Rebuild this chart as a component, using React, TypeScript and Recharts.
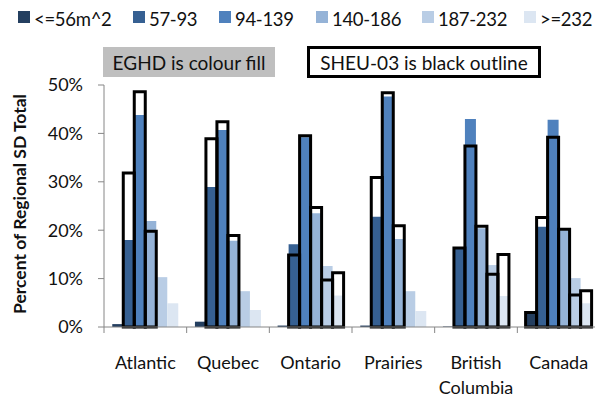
import { BarChart, Bar, XAxis, YAxis } from "recharts";

const regions = ["Atlantic", "Quebec", "Ontario", "Prairies", "British Columbia", "Canada"];
const sizeBands = ["<=56m^2", "57-93", "94-139", "140-186", "187-232", ">=232"];
const bandColours = ["#243F60", "#366092", "#4F81BD", "#95B3D7", "#B9CDE5", "#DCE6F2"];

// EGHD (colour fill), % of regional total, one array per size band
const eghdUpTo56 = [0.6, 1.1, 0.3, 0.3, 0.1, 2.9];
const eghd57to93 = [18.0, 28.9, 17.1, 22.8, 16.2, 20.7];
const eghd94to139 = [43.8, 40.7, 39.2, 47.6, 43.0, 42.8];
const eghd140to186 = [21.9, 17.8, 23.5, 18.2, 20.4, 20.0];
const eghd187to232 = [10.3, 7.4, 12.6, 7.4, 12.8, 10.1];
const eghdOver232 = [4.9, 3.5, 6.5, 3.3, 6.4, 4.9];

// SHEU-03 (black outline)
const sheuUpTo56 = [0, 0, 0, 0, 0, 3.0];
const sheu57to93 = [31.8, 38.9, 14.9, 30.9, 16.3, 22.6];
const sheu94to139 = [48.6, 42.4, 39.5, 48.4, 37.4, 39.2];
const sheu140to186 = [19.8, 18.9, 24.7, 20.9, 20.8, 20.2];
const sheu187to232 = [0, 0, 9.7, 0, 10.9, 6.6];
const sheuOver232 = [0, 0, 11.2, 0, 15.0, 7.5];

const yTicks = [0, 10, 20, 30, 40, 50];

const eghd = [eghdUpTo56, eghd57to93, eghd94to139, eghd140to186, eghd187to232, eghdOver232];
const sheu = [sheuUpTo56, sheu57to93, sheu94to139, sheu140to186, sheu187to232, sheuOver232];

const data = regions.map((region, i) => {
  const row: Record<string, string | number> = { region };
  sizeBands.forEach((_, b) => {
    row[`e${b}`] = eghd[b][i];
    row[`s${b}`] = sheu[b][i];
  });
  return row;
});

const FONT = "Lato, 'Open Sans', sans-serif";
const AXIS = "#868686";
const CHART_W = 600;
const PLOT_LEFT = 104;
const HALF_BAND = (CHART_W - PLOT_LEFT) / regions.length / 2;
const LEGEND_X = [18, 133, 219, 316, 422, 524];

function RegionTick({ x, y, payload }: any) {
  const words = String(payload.value).split(" ");
  return (
    <g>
      <line x1={x - HALF_BAND} x2={x - HALF_BAND} y1={y} y2={y + 6} stroke={AXIS} />
      <text x={x} y={y + 42} textAnchor="middle" fontFamily={FONT} fontSize={18} fill="#111">
        {words.map((w, i) => (
          <tspan key={i} x={x} dy={i === 0 ? 0 : 25}>
            {w}
          </tspan>
        ))}
      </text>
    </g>
  );
}

export default function App() {
  return (
    <div
      style={{
        position: "absolute",
        left: 0,
        top: 0,
        width: 595,
        height: 400,
        overflow: "hidden",
        background: "#fff",
        fontFamily: FONT,
        color: "#111",
      }}
    >
      {sizeBands.map((name, b) => (
        <div key={name} style={{ position: "absolute", left: LEGEND_X[b], top: 0 }}>
          <div
            style={{
              position: "absolute",
              left: 0,
              top: 11,
              width: 12,
              height: 12,
              background: bandColours[b],
            }}
          />
          <div
            style={{
              position: "absolute",
              left: 16,
              top: 8,
              fontSize: 18.5,
              lineHeight: 1.2,
              letterSpacing: -0.3,
              whiteSpace: "nowrap",
            }}
          >
            {name}
          </div>
        </div>
      ))}

      <div
        style={{
          position: "absolute",
          left: 103,
          top: 47,
          width: 172,
          height: 30,
          background: "#BFBFBF",
          display: "flex",
          alignItems: "center",
          justifyContent: "center",
          fontSize: 19,
          whiteSpace: "nowrap",
        }}
      >
        EGHD is colour fill
      </div>
      <div
        style={{
          position: "absolute",
          left: 307,
          top: 46,
          width: 234,
          height: 32,
          boxSizing: "border-box",
          border: "3px solid #000",
          display: "flex",
          alignItems: "center",
          justifyContent: "center",
          fontSize: 19,
          whiteSpace: "nowrap",
        }}
      >
        SHEU-03 is black outline
      </div>

      <div
        style={{
          position: "absolute",
          left: 19,
          top: 204,
          transform: "translate(-50%, -50%) rotate(-90deg)",
          fontSize: 17.5,
          fontWeight: 700,
          whiteSpace: "nowrap",
        }}
      >
        Percent of Regional SD Total
      </div>

      <div style={{ position: "absolute", left: 0, top: 0 }}>
        <BarChart
          width={CHART_W}
          height={400}
          data={data}
          margin={{ top: 85, right: 0, bottom: 43, left: 44 }}
          barCategoryGap="10%"
          barGap={0}
        >
          <XAxis
            xAxisId="fill"
            dataKey="region"
            height={30}
            interval={0}
            axisLine={{ stroke: AXIS }}
            tickLine={false}
            tickSize={0}
            tickMargin={0}
            tick={<RegionTick />}
          />
          <XAxis xAxisId="outline" dataKey="region" hide />
          <YAxis
            width={60}
            domain={[0, 50]}
            ticks={yTicks}
            interval={0}
            tickFormatter={(v: number) => `${v}%`}
            axisLine={{ stroke: AXIS }}
            tickLine={{ stroke: AXIS }}
            tickSize={6}
            tickMargin={15}
            tick={{ fontFamily: FONT, fontSize: 18, fill: "#111" }}
          />
          {sizeBands.map((name, b) => (
            <Bar
              key={`e${b}`}
              xAxisId="fill"
              dataKey={`e${b}`}
              name={name}
              fill={bandColours[b]}
              isAnimationActive={false}
            />
          ))}
          {sizeBands.map((name, b) => (
            <Bar
              key={`s${b}`}
              xAxisId="outline"
              dataKey={`s${b}`}
              name={`SHEU-03 ${name}`}
              fill="none"
              stroke="#000"
              strokeWidth={3}
              isAnimationActive={false}
            />
          ))}
        </BarChart>
      </div>
    </div>
  );
}
